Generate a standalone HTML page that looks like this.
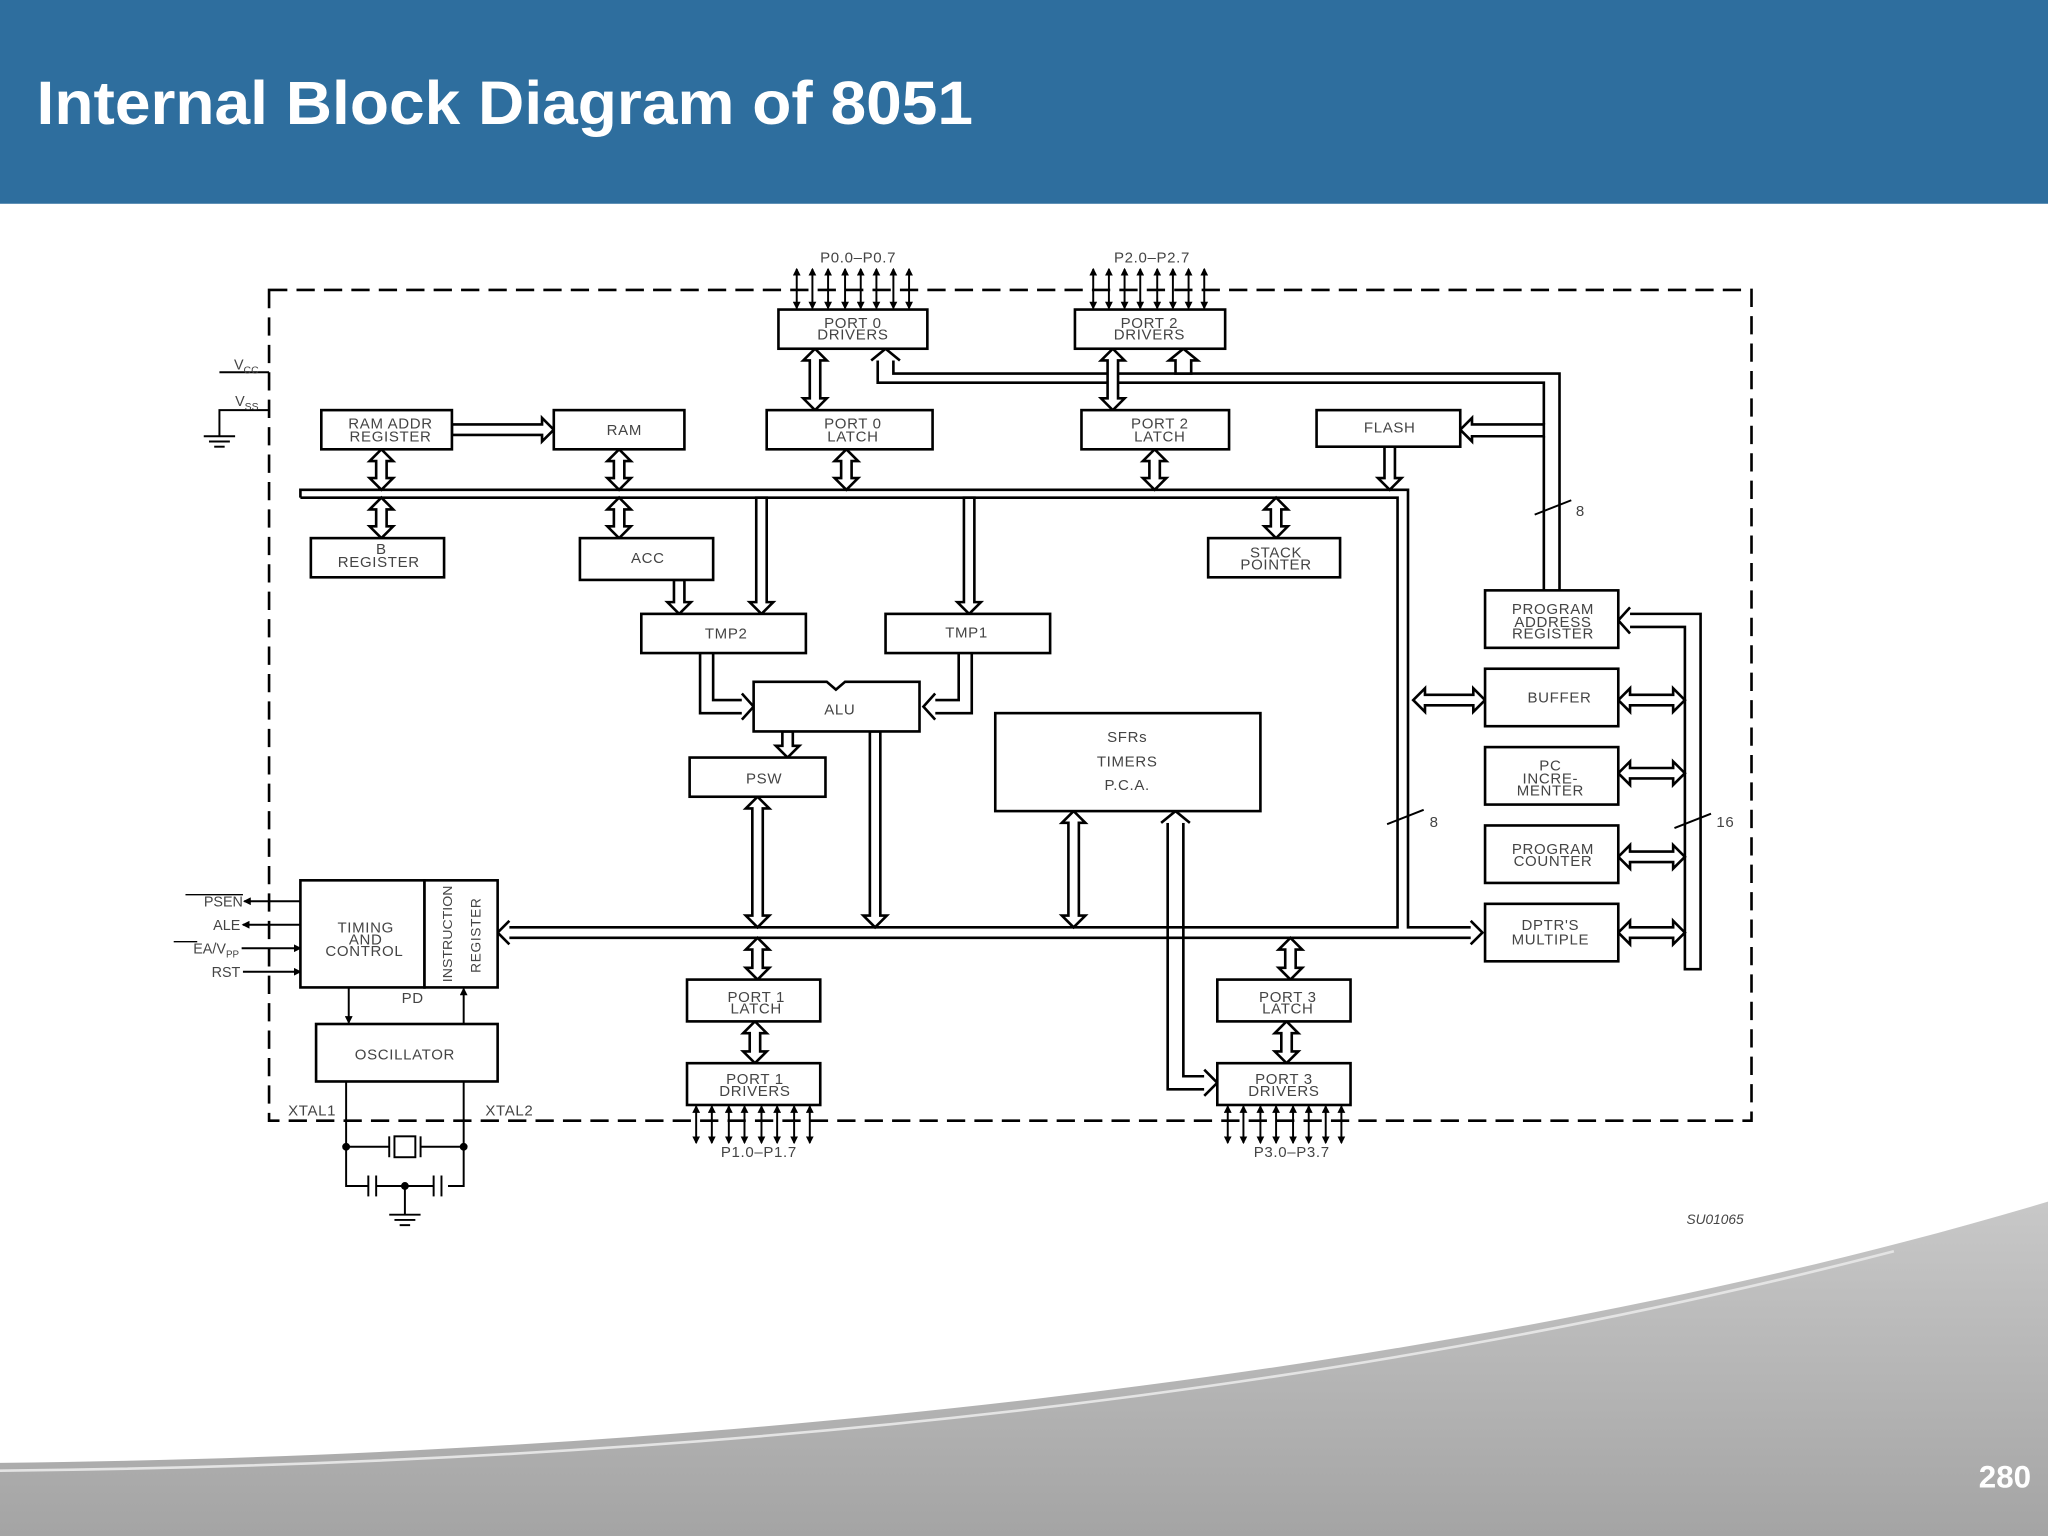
<!DOCTYPE html>
<html><head><meta charset="utf-8"><style>
html,body{margin:0;padding:0;background:#fff;}
svg{display:block}
</style></head><body>
<svg width="2048" height="1536" viewBox="0 0 1568 1176" xmlns="http://www.w3.org/2000/svg" font-family="Liberation Sans, sans-serif">
<defs>
<marker id="ah" markerWidth="6" markerHeight="6" refX="5" refY="3" orient="auto-start-reverse" markerUnits="userSpaceOnUse"><path d="M0,0 L6,3 L0,6 Z" fill="#000"/></marker>
<linearGradient id="gg" x1="0" y1="0" x2="0" y2="1"><stop offset="0" stop-color="#c8c8c8"/><stop offset="1" stop-color="#a4a4a4"/></linearGradient>
</defs>
<rect width="1568" height="1176" fill="#fff"/>
<!-- bottom swoosh -->
<path d="M0,1120 C500,1115 1100,1060 1568,920 L1568,1176 L0,1176 Z" fill="url(#gg)"/>
<path d="M0,1126 C500,1121 1000,1075 1450,958" fill="none" stroke="#e4e4e4" stroke-width="2"/>
<text x="1515" y="1139" font-size="24" font-weight="bold" fill="#fff" font-family="Liberation Sans, sans-serif">280</text>
<!-- header -->
<rect x="0" y="0" width="1568" height="156" fill="#2e6e9e"/>
<text x="28" y="95" font-size="47" font-weight="bold" fill="#fff" textLength="717" lengthAdjust="spacingAndGlyphs">Internal Block Diagram of 8051</text>

<g stroke="#000" stroke-width="2" fill="none">
<rect x="206" y="222" width="1135" height="636" stroke-dasharray="14,7"/>
</g>

<g stroke="#000" stroke-width="2" fill="none">
<polyline points="1194,452 1194,286 684,286 684,276"/>
<polyline points="1182,325 1182,293 672,293 672,276"/>
<line x1="1182" y1="334" x2="1182" y2="452"/>
<polyline points="667,276 678,267 689,276" fill="#fff"/>
<polyline points="230,381 230,375 1078,375 1078,710 1126,710"/>
<polyline points="230,381 1070,381 1070,710 390,710"/>
<line x1="390" y1="718" x2="1126" y2="718"/>
<polyline points="390,705 381,714 390,723"/>
<polyline points="1126,705 1135,714 1126,723"/>
<polyline points="1248,470 1302,470 1302,742 1290,742 1290,480 1248,480"/>
<polyline points="1248,465 1239,475 1248,485"/>
<polyline points="536,500 536,546 568,546"/><polyline points="546,500 546,536 568,536"/>
<polyline points="568,531 577,541 568,551" fill="#fff"/>
<polyline points="744,500 744,546 716,546"/><polyline points="734,500 734,536 716,536"/>
<polyline points="716,531 707,541 716,551" fill="#fff"/>
<polyline points="894,630 894,834 922,834"/><polyline points="906,630 906,824 922,824"/>
<polyline points="922,819 932,829 922,839" fill="#fff"/>
<polyline points="889,630 900,621 911,630" fill="#fff"/>
</g>

<g stroke="#000" stroke-width="2" fill="#fff">
<polygon points="900,286 900,276 895,276 906,267 917,276 912,276 912,286"/>
<polygon points="620,276 615,276 624,267 633,276 628,276 628,305 633,305 624,314 615,305 620,305"/>
<polygon points="848,276 843,276 852,267 861,276 856,276 856,305 861,305 852,314 843,305 848,305"/>
<polygon points="470,353 465,353 474,344 483,353 478,353 478,366 483,366 474,375 465,366 470,366"/>
<polygon points="644,353 639,353 648,344 657,353 652,353 652,366 657,366 648,375 639,366 644,366"/>
<polygon points="880,353 875,353 884,344 893,353 888,353 888,366 893,366 884,375 875,366 880,366"/>
<polygon points="288,353 283,353 292,344 301,353 296,353 296,366 301,366 292,375 283,366 288,366"/>
<polygon points="288,390 283,390 292,381 301,390 296,390 296,403 301,403 292,412 283,403 288,403"/>
<polygon points="470,390 465,390 474,381 483,390 478,390 478,403 483,403 474,412 465,403 470,403"/>
<polygon points="973,390 968,390 977,381 986,390 981,390 981,403 986,403 977,412 968,403 973,403"/>
<polygon points="576,619 571,619 580,610 589,619 584,619 584,701 589,701 580,710 571,701 576,701"/>
<polygon points="818,630 813,630 822,621 831,630 826,630 826,701 831,701 822,710 813,701 818,701"/>
<polygon points="576,727 571,727 580,718 589,727 584,727 584,741 589,741 580,750 571,741 576,741"/>
<polygon points="574,791 569,791 578,782 587,791 582,791 582,805 587,805 578,814 569,805 574,805"/>
<polygon points="984,727 979,727 988,718 997,727 992,727 992,741 997,741 988,750 979,741 984,741"/>
<polygon points="981,791 976,791 985,782 994,791 989,791 989,805 994,805 985,814 976,805 981,805"/>
<polygon points="1060,342 1068,342 1068,366 1073,366 1064,375 1055,366 1060,366"/>
<polygon points="516,444 524,444 524,461 529,461 520,470 511,461 516,461"/>
<polygon points="579,381 587,381 587,461 592,461 583,470 574,461 579,461"/>
<polygon points="738,381 746,381 746,461 751,461 742,470 733,461 738,461"/>
<polygon points="599,560 607,560 607,571 612,571 603,580 594,571 599,571"/>
<polygon points="666,560 674,560 674,701 679,701 670,710 661,701 666,701"/>
<polygon points="1091,532 1091,527 1082,536 1091,545 1091,540 1128,540 1128,545 1137,536 1128,527 1128,532"/>
<polygon points="1248,532 1248,527 1239,536 1248,545 1248,540 1281,540 1281,545 1290,536 1281,527 1281,532"/>
<polygon points="1248,588 1248,583 1239,592 1248,601 1248,596 1281,596 1281,601 1290,592 1281,583 1281,588"/>
<polygon points="1248,652 1248,647 1239,656 1248,665 1248,660 1281,660 1281,665 1290,656 1281,647 1281,652"/>
<polygon points="1248,710 1248,705 1239,714 1248,723 1248,718 1281,718 1281,723 1290,714 1281,705 1281,710"/>
<polygon points="346,325 415,325 415,320 424,329 415,338 415,333 346,333"/>
<polygon points="1182,325 1127,325 1127,320 1118,329 1127,338 1127,334 1182,334"/>
</g>

<g stroke="#000" stroke-width="2" fill="#fff">
<rect x="596" y="237" width="114" height="30"/>
<rect x="823" y="237" width="115" height="30"/>
<rect x="246" y="314" width="100" height="30"/>
<rect x="424" y="314" width="100" height="30"/>
<rect x="587" y="314" width="127" height="30"/>
<rect x="828" y="314" width="113" height="30"/>
<rect x="1008" y="314" width="110" height="28"/>
<rect x="238" y="412" width="102" height="30"/>
<rect x="444" y="412" width="102" height="32"/>
<rect x="925" y="412" width="101" height="30"/>
<rect x="491" y="470" width="126" height="30"/>
<rect x="678" y="470" width="126" height="30"/>
<polygon points="577,522 633,522 640,528 647,522 704,522 704,560 577,560"/>
<rect x="528" y="580" width="104" height="30"/>
<rect x="762" y="546" width="203" height="75"/>
<rect x="1137" y="452" width="102" height="44"/>
<rect x="1137" y="512" width="102" height="44"/>
<rect x="1137" y="572" width="102" height="44"/>
<rect x="1137" y="632" width="102" height="44"/>
<rect x="1137" y="692" width="102" height="44"/>
<rect x="230" y="674" width="95" height="82"/>
<rect x="325" y="674" width="56" height="82"/>
<rect x="242" y="784" width="139" height="44"/>
<rect x="526" y="750" width="102" height="32"/>
<rect x="526" y="814" width="102" height="32"/>
<rect x="932" y="750" width="102" height="32"/>
<rect x="932" y="814" width="102" height="32"/>
</g>

<g stroke="#000" stroke-width="1.5" fill="none">
<line x1="1175" y1="394" x2="1203" y2="383"/>
<line x1="1062" y1="631" x2="1090" y2="620"/>
<line x1="1282" y1="634" x2="1310" y2="623"/>
<g marker-start="url(#ah)" marker-end="url(#ah)">
<line x1="610" y1="206" x2="610" y2="236"/><line x1="622" y1="206" x2="622" y2="236"/><line x1="634" y1="206" x2="634" y2="236"/><line x1="647" y1="206" x2="647" y2="236"/><line x1="659" y1="206" x2="659" y2="236"/><line x1="671" y1="206" x2="671" y2="236"/><line x1="684" y1="206" x2="684" y2="236"/><line x1="696" y1="206" x2="696" y2="236"/>
<line x1="837" y1="206" x2="837" y2="236"/><line x1="849" y1="206" x2="849" y2="236"/><line x1="861" y1="206" x2="861" y2="236"/><line x1="873" y1="206" x2="873" y2="236"/><line x1="886" y1="206" x2="886" y2="236"/><line x1="898" y1="206" x2="898" y2="236"/><line x1="910" y1="206" x2="910" y2="236"/><line x1="922" y1="206" x2="922" y2="236"/>
<line x1="533" y1="847" x2="533" y2="875"/><line x1="545" y1="847" x2="545" y2="875"/><line x1="558" y1="847" x2="558" y2="875"/><line x1="570" y1="847" x2="570" y2="875"/><line x1="583" y1="847" x2="583" y2="875"/><line x1="595" y1="847" x2="595" y2="875"/><line x1="608" y1="847" x2="608" y2="875"/><line x1="620" y1="847" x2="620" y2="875"/>
<line x1="940" y1="847" x2="940" y2="875"/><line x1="952" y1="847" x2="952" y2="875"/><line x1="965" y1="847" x2="965" y2="875"/><line x1="977" y1="847" x2="977" y2="875"/><line x1="990" y1="847" x2="990" y2="875"/><line x1="1002" y1="847" x2="1002" y2="875"/><line x1="1015" y1="847" x2="1015" y2="875"/><line x1="1027" y1="847" x2="1027" y2="875"/>
</g>
<line x1="187" y1="690" x2="230" y2="690" marker-start="url(#ah)"/>
<line x1="186" y1="708" x2="230" y2="708" marker-start="url(#ah)"/>
<line x1="185" y1="726" x2="230" y2="726" marker-end="url(#ah)"/>
<line x1="186" y1="744" x2="230" y2="744" marker-end="url(#ah)"/>
<line x1="267" y1="756" x2="267" y2="783" marker-end="url(#ah)"/>
<line x1="355" y1="784" x2="355" y2="757" marker-end="url(#ah)"/>
<polyline points="168,285 206,285"/>
<polyline points="206,314 168,314 168,334"/>
<line x1="156" y1="334" x2="180" y2="334"/><line x1="160" y1="338" x2="176" y2="338"/><line x1="164" y1="342" x2="172" y2="342"/>
<polyline points="265,828 265,908 282,908"/>
<polyline points="355,828 355,908 343,908"/>
<line x1="265" y1="878" x2="298" y2="878"/><line x1="322" y1="878" x2="355" y2="878"/>
<line x1="298" y1="870" x2="298" y2="886"/><line x1="322" y1="870" x2="322" y2="886"/>
<rect x="302" y="870" width="16" height="16"/>
<line x1="282" y1="900" x2="282" y2="916"/><line x1="288" y1="900" x2="288" y2="916"/>
<line x1="288" y1="908" x2="332" y2="908"/>
<line x1="332" y1="900" x2="332" y2="916"/><line x1="338" y1="900" x2="338" y2="916"/>
<line x1="310" y1="908" x2="310" y2="930"/>
<line x1="298" y1="930" x2="322" y2="930"/><line x1="302" y1="934" x2="318" y2="934"/><line x1="306" y1="938" x2="314" y2="938"/>
<line x1="142" y1="685" x2="186" y2="685" stroke-width="1"/>
<line x1="133" y1="721" x2="151" y2="721" stroke-width="1"/>
</g>
<g fill="#000"><circle cx="265" cy="878" r="3"/><circle cx="355" cy="878" r="3"/><circle cx="310" cy="908" r="3"/></g>

<g font-size="11.5" fill="#444" text-anchor="middle" letter-spacing="0.5">
<text x="657" y="201">P0.0–P0.7</text>
<text x="882" y="201">P2.0–P2.7</text>
<text x="653" y="251">PORT 0</text><text x="653" y="260">DRIVERS</text>
<text x="880" y="251">PORT 2</text><text x="880" y="260">DRIVERS</text>
<text x="299" y="328">RAM ADDR</text><text x="299" y="338">REGISTER</text>
<text x="478" y="333">RAM</text>
<text x="653" y="328">PORT 0</text><text x="653" y="338">LATCH</text>
<text x="888" y="328">PORT 2</text><text x="888" y="338">LATCH</text>
<text x="1064" y="331">FLASH</text>
<text x="292" y="424">B</text><text x="290" y="434">REGISTER</text>
<text x="496" y="431">ACC</text>
<text x="977" y="427">STACK</text><text x="977" y="436">POINTER</text>
<text x="556" y="489">TMP2</text>
<text x="740" y="488">TMP1</text>
<text x="643" y="547">ALU</text>
<text x="585" y="600">PSW</text>
<text x="863" y="568">SFRs</text><text x="863" y="587">TIMERS</text><text x="863" y="605">P.C.A.</text>
<text x="1189" y="470">PROGRAM</text><text x="1189" y="480">ADDRESS</text><text x="1189" y="489">REGISTER</text>
<text x="1194" y="538">BUFFER</text>
<text x="1187" y="590">PC</text><text x="1187" y="600">INCRE-</text><text x="1187" y="609">MENTER</text>
<text x="1189" y="654">PROGRAM</text><text x="1189" y="663">COUNTER</text>
<text x="1187" y="712">DPTR'S</text><text x="1187" y="723">MULTIPLE</text>
<text x="280" y="714">TIMING</text><text x="280" y="723">AND</text><text x="279" y="732">CONTROL</text>
<text transform="translate(346,715) rotate(-90)" font-size="10" letter-spacing="0" textLength="74" lengthAdjust="spacingAndGlyphs">INSTRUCTION</text>
<text transform="translate(368,716) rotate(-90)" font-size="10.5">REGISTER</text>
<text x="310" y="811">OSCILLATOR</text>
<text x="579" y="767">PORT 1</text><text x="579" y="776">LATCH</text>
<text x="578" y="830">PORT 1</text><text x="578" y="839">DRIVERS</text>
<text x="986" y="767">PORT 3</text><text x="986" y="776">LATCH</text>
<text x="983" y="830">PORT 3</text><text x="983" y="839">DRIVERS</text>
<text x="581" y="886">P1.0–P1.7</text>
<text x="989" y="886">P3.0–P3.7</text>
<text x="316" y="768">PD</text>
<text x="239" y="854">XTAL1</text>
<text x="390" y="854">XTAL2</text>
<text x="1210" y="395">8</text>
<text x="1098" y="633">8</text>
<text x="1321" y="633">16</text>
</g>
<g font-size="11" fill="#444" text-anchor="end">
<text x="186" y="694">PSEN</text>
<text x="184" y="712">ALE</text>
<text x="183" y="730">EA/V<tspan font-size="7.5" dy="3">PP</tspan></text>
<text x="184" y="748">RST</text>
<text x="198" y="283">V<tspan font-size="8" dy="3">CC</tspan></text>
<text x="198" y="311">V<tspan font-size="8" dy="3">SS</tspan></text>
<text x="1335" y="937" font-style="italic" font-size="10.5">SU01065</text>
</g>
</svg>
</body></html>
